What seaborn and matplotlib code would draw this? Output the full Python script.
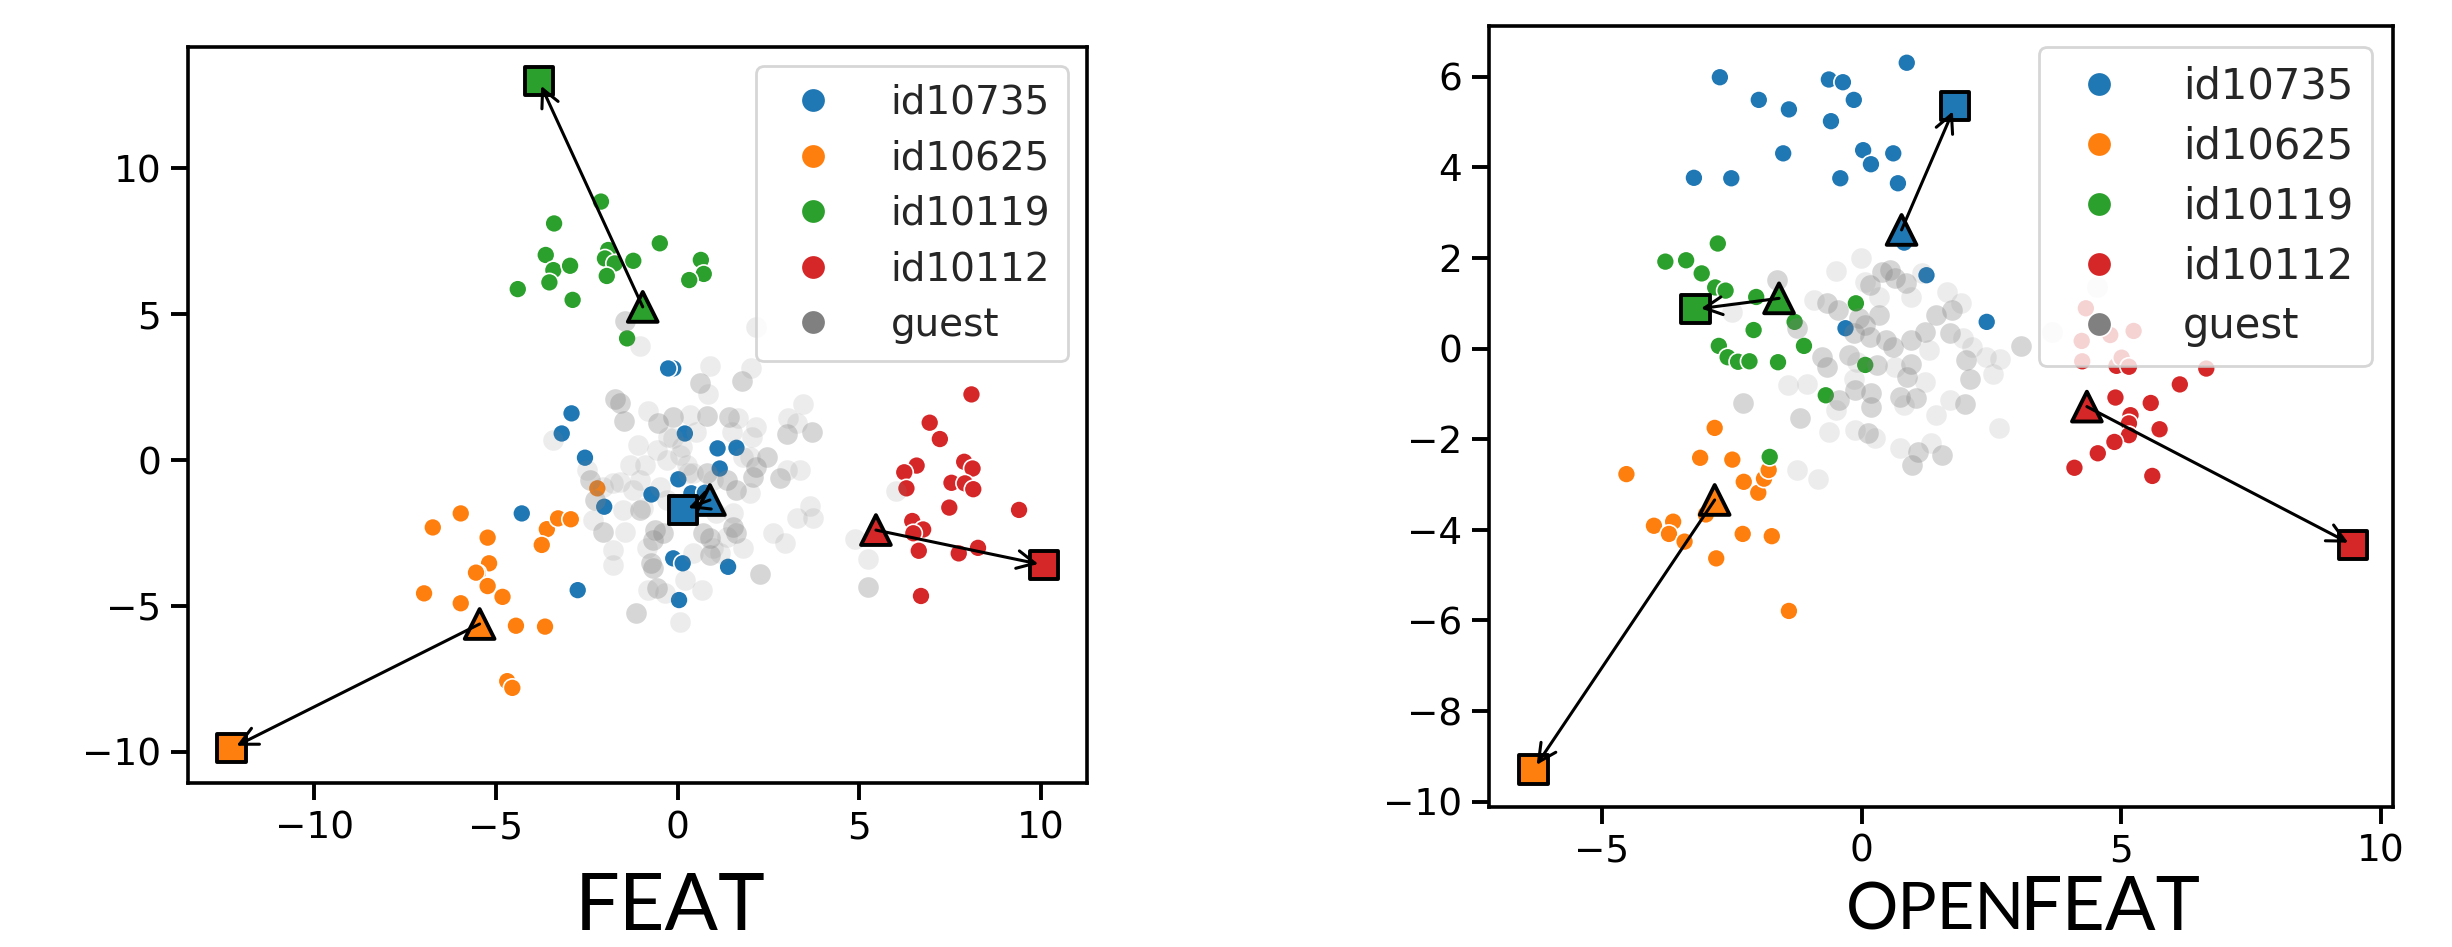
import numpy as np
import pandas as pd
import matplotlib
matplotlib.use("Agg")
import matplotlib.pyplot as plt
from matplotlib.lines import Line2D
import seaborn as sns

# ---------------- data ----------------
SPEAKERS = ["id10735", "id10625", "id10119", "id10112"]
GUEST_LABEL = "guest"
PALETTE = {"id10735": "#1f77b4", "id10625": "#ff7f0e",
           "id10119": "#2ca02c", "id10112": "#d62728", "guest": "#808080"}

# ---- FEAT panel ----
feat_id10735_x = [-0.12, -0.26, -2.92, -3.19, -2.55, 0.20, 1.10, 1.62, 1.16, 0.02,
                  -0.72, -2.02, -4.29, 0.38, 0.75, -0.12, 0.14, 1.39, -2.75, 0.04]
feat_id10735_y = [3.14, 3.14, 1.60, 0.91, 0.08, 0.91, 0.40, 0.42, -0.29, -0.66,
                  -1.18, -1.60, -1.83, -1.14, -1.12, -3.37, -3.54, -3.66, -4.46, -4.80]
feat_id10625_x = [-5.97, -6.74, -5.23, -5.19, -5.50, -5.55, -5.23, -4.82, -6.98, -5.97,
                  -4.45, -3.65, -4.69, -4.55, -3.60, -3.74, -3.29, -2.94, -2.21]
feat_id10625_y = [-1.83, -2.31, -2.66, -3.54, -3.88, -3.86, -4.32, -4.69, -4.57, -4.91,
                  -5.68, -5.71, -7.58, -7.81, -2.37, -2.91, -2.00, -2.03, -0.97]
feat_id10119_x = [-2.11, -3.40, -3.63, -3.42, -2.96, -3.53, -4.40, -2.89, -1.91, -2.00,
                  -1.73, -1.95, -1.22, -0.49, 0.64, 0.72, 0.32, -1.39]
feat_id10119_y = [8.86, 8.11, 7.03, 6.51, 6.66, 6.09, 5.86, 5.49, 7.20, 6.91,
                  6.74, 6.31, 6.83, 7.43, 6.86, 6.38, 6.17, 4.17]
feat_id10112_x = [8.09, 6.94, 7.22, 6.58, 6.24, 7.89, 8.12, 7.54, 7.91, 8.14,
                  6.30, 7.48, 6.46, 6.76, 6.49, 6.64, 7.74, 8.27, 6.70, 9.40]
feat_id10112_y = [2.25, 1.28, 0.72, -0.19, -0.42, -0.06, -0.29, -0.78, -0.80, -1.00,
                  -0.97, -1.63, -2.09, -2.38, -2.51, -3.11, -3.20, -3.01, -4.66, -1.71]
feat_guest_light_x = [-1.04, 2.17, 0.89, 2.01, 0.83, -0.81, 0.34, 1.67, 2.17, 3.04,
                      3.44, 3.28, 1.49, 2.04, 0.52, -0.26, -1.08, -0.58, 0.11, -3.42,
                      -1.31, -0.90, 0.25, -0.30, 1.99, 3.37, 3.00, 1.99, -2.50, -1.77,
                      -1.22, -1.50, -0.49, -2.32, -1.45, 1.07, 1.53, 2.63, 2.95, 3.28,
                      3.73, 3.64, -1.77, -1.77, -0.85, 0.43, 1.16, 1.81, 0.20, -0.81,
                      -0.35, 0.66, 0.06, 4.88, 5.23, 6.01, -0.30, -0.95, 0.43, -0.12,
                      -1.04, -1.59, -2.05, 0.98, 1.35, 0.06, 0.29, 0.98, 1.81]
feat_guest_light_y = [3.92, 4.57, 3.23, 3.14, 2.25, 1.68, 1.54, 1.43, 1.14, 1.43,
                      1.91, 1.26, 0.97, 0.80, 0.97, 0.80, 0.51, 0.34, 0.46, 0.69,
                      -0.17, -0.17, -0.17, 0.00, 0.11, -0.34, -0.34, -1.14, -0.34, -0.80,
                      -1.03, -1.71, -0.92, -2.06, -2.46, -1.83, -1.83, -2.51, -2.86, -2.00,
                      -2.00, -1.58, -3.09, -3.60, -3.03, -3.20, -3.20, -3.03, -4.11, -4.46,
                      -4.57, -4.46, -5.54, -2.72, -3.40, -1.06, -1.37, -1.66, -0.46, 0.74,
                      -0.69, -0.74, -0.92, -3.03, -2.63, 0.17, -0.46, -0.69, 0.11]
feat_guest_dark_x = [-1.45, 0.61, 1.76, -1.73, -1.59, -1.48, -0.53, -0.12, 0.80, 1.42,
                     3.02, 3.69, 0.80, 1.35, 2.45, 2.17, 2.08, 2.82, 1.62, -2.41,
                     -2.28, -1.04, -2.06, -0.62, -0.40, -0.67, 0.70, 0.89, 1.53, 1.62,
                     -0.72, -0.67, 0.89, 2.27, -0.58, -1.15, 5.23, 0.06]
feat_guest_dark_y = [4.78, 2.63, 2.72, 2.08, 1.94, 1.35, 1.26, 1.49, 1.52, 1.49,
                     0.88, 0.97, -0.46, -0.69, 0.11, -0.23, -0.57, -0.63, -1.03, -0.69,
                     -1.37, -1.71, -2.46, -2.40, -2.51, -2.74, -2.51, -2.68, -2.29, -2.51,
                     -3.54, -3.71, -3.26, -3.91, -4.40, -5.26, -4.36, -1.60]
# speaker centres: triangle = start, square = end (order of SPEAKERS)
feat_tri_x = [0.89, -5.45, -0.96, 5.46]
feat_tri_y = [-1.37, -5.62, 5.25, -2.40]
feat_sq_x = [0.15, -12.28, -3.82, 10.08]
feat_sq_y = [-1.71, -9.88, 13.00, -3.60]

# ---- OPENFEAT panel ----
open_id10735_x = [-2.73, -1.98, -1.40, -0.63, -0.36, -0.15, -0.59, 0.87, -1.51, 0.03,
                  0.18, 0.61, -3.23, -2.51, -0.41, 0.70, 0.82, 1.25, 2.41, -0.31]
open_id10735_y = [5.99, 5.49, 5.28, 5.94, 5.88, 5.49, 5.02, 6.31, 4.31, 4.38,
                  4.07, 4.31, 3.77, 3.76, 3.76, 3.65, 2.34, 1.62, 0.59, 0.45]
open_id10625_x = [-2.83, -3.11, -2.49, -4.53, -2.27, -1.99, -1.88, -1.79, -3.00, -4.00,
                  -3.63, -3.71, -3.41, -2.29, -1.73, -2.80, -1.40]
open_id10625_y = [-1.75, -2.41, -2.45, -2.77, -2.94, -3.18, -2.87, -2.68, -3.66, -3.91,
                  -3.82, -4.09, -4.26, -4.09, -4.14, -4.63, -5.79]
open_id10119_x = [-2.77, -3.78, -3.38, -3.08, -2.82, -2.62, -2.03, -1.29, -2.08, -1.11,
                  -2.75, -2.58, -2.38, -2.16, -1.61, -0.11, 0.07, -0.69, -1.77]
open_id10119_y = [2.32, 1.92, 1.95, 1.66, 1.35, 1.28, 1.14, 0.59, 0.41, 0.06,
                  0.06, -0.19, -0.29, -0.28, -0.30, 1.00, -0.36, -1.03, -2.39]
open_id10112_x = [4.25, 4.91, 5.01, 5.15, 6.64, 6.13, 4.89, 5.57, 5.18, 5.15,
                  5.74, 5.15, 4.87, 4.55, 4.10, 5.60, 4.32, 4.24, 4.79, 5.24]
open_id10112_y = [-0.28, -0.38, -0.20, -0.40, -0.44, -0.79, -1.08, -1.20, -1.47, -1.65,
                  -1.78, -1.91, -2.06, -2.31, -2.63, -2.81, 0.89, 0.17, 0.30, 0.39]
open_guest_light_x = [-0.01, -0.50, 1.16, 0.06, 0.33, 0.95, 1.64, 1.91, -0.91, -2.49,
                      1.29, 1.95, 2.12, 2.39, 2.67, 2.53, -0.08, 0.64, 1.23, -1.42,
                      -1.05, -0.15, 0.81, 1.71, -0.50, 1.43, 2.64, -0.63, -0.12, 0.26,
                      0.74, 1.33, -1.25, -0.84, 3.67, 4.53]
open_guest_light_y = [2.01, 1.72, 1.66, 1.47, 1.14, 1.14, 1.25, 1.00, 1.07, 0.81,
                      -0.03, 0.23, 0.04, -0.18, -0.22, -0.55, -0.29, -0.40, -0.73, -0.81,
                      -0.77, -0.66, -1.25, -1.14, -1.36, -1.47, -1.76, -1.84, -1.80, -1.98,
                      -2.20, -2.09, -2.68, -2.87, 0.37, 1.36]
open_guest_dark_x = [0.40, 0.54, 0.64, 0.85, 0.16, 1.74, 1.43, -0.67, -0.46, -1.63,
                     -1.25, -0.05, 0.06, 0.33, -0.15, 0.16, 0.47, 0.61, 0.95, 1.23,
                     1.71, 2.02, 2.08, 3.07, -0.77, -0.67, -0.25, 0.30, 0.95, 0.88,
                     -0.12, 0.19, -0.43, 0.74, 1.05, 0.19, 2.00, -2.28, -1.18, 0.13,
                     1.09, 1.55, 0.98]
open_guest_dark_y = [1.70, 1.73, 1.55, 1.44, 1.40, 0.85, 0.74, 1.00, 0.85, 1.51,
                     0.45, 0.67, 0.52, 0.74, 0.34, 0.26, 0.19, 0.04, 0.19, 0.37,
                     0.34, -0.25, -0.66, 0.06, -0.18, -0.40, -0.14, -0.36, -0.33, -0.62,
                     -0.92, -0.99, -1.14, -1.06, -1.10, -1.28, -1.23, -1.21, -1.54, -1.87,
                     -2.28, -2.35, -2.57]
open_tri_x = [0.77, -2.83, -1.59, 4.34]
open_tri_y = [2.62, -3.34, 1.11, -1.28]
open_sq_x = [1.80, -6.32, -3.20, 9.47]
open_sq_y = [5.35, -9.29, 0.87, -4.34]

TICK_LABELS = {"feat_x": [-10, -5, 0, 5, 10], "feat_y": [-10, -5, 0, 5, 10],
               "open_x": [-5, 0, 5, 10], "open_y": [-10, -8, -6, -4, -2, 0, 2, 4, 6]}
CAPTION_LEFT = "FEAT"
CAPTION_RIGHT_PREFIX = "OPEN"
CAPTION_RIGHT = "FEAT"


def speaker_frame(xs, ys):
    rows = []
    for spk, x, y in zip(SPEAKERS, xs, ys):
        rows.append(pd.DataFrame({"x": x, "y": y, "speaker": spk}))
    return pd.concat(rows, ignore_index=True)


def centre_frame(x, y):
    return pd.DataFrame({"x": x, "y": y, "speaker": SPEAKERS})


# ---------------- style ----------------
sns.set_theme(style="white")
plt.rcParams["font.family"] = ["DejaVu Sans"]
plt.rcParams.update({
    "axes.edgecolor": "black",
    "axes.linewidth": 1.3,
    "xtick.bottom": True, "ytick.left": True,
    "xtick.major.size": 6.2, "ytick.major.size": 6.2,
    "xtick.major.width": 1.4, "ytick.major.width": 1.4,
    "xtick.color": "black", "ytick.color": "black",
    "xtick.labelsize": 13.5, "ytick.labelsize": 13.5,
})

fig = plt.figure(figsize=(12.26, 4.735), dpi=200)
ax1 = fig.add_axes([0.0768, 0.1729, 0.3665, 0.7775])
ax2 = fig.add_axes([0.6072, 0.1482, 0.3686, 0.8243])

panels = [
    (ax1,
     speaker_frame([feat_id10735_x, feat_id10625_x, feat_id10119_x, feat_id10112_x],
                   [feat_id10735_y, feat_id10625_y, feat_id10119_y, feat_id10112_y]),
     (feat_guest_light_x, feat_guest_light_y), (feat_guest_dark_x, feat_guest_dark_y),
     centre_frame(feat_tri_x, feat_tri_y), centre_frame(feat_sq_x, feat_sq_y),
     (-13.47, 11.27), (-11.08, 14.16), TICK_LABELS["feat_x"], TICK_LABELS["feat_y"],
     14.0, 0.45),
    (ax2,
     speaker_frame([open_id10735_x, open_id10625_x, open_id10119_x, open_id10112_x],
                   [open_id10735_y, open_id10625_y, open_id10119_y, open_id10112_y]),
     (open_guest_light_x, open_guest_light_y), (open_guest_dark_x, open_guest_dark_y),
     centre_frame(open_tri_x, open_tri_y), centre_frame(open_sq_x, open_sq_y),
     (-7.18, 10.23), (-10.11, 7.12), TICK_LABELS["open_x"], TICK_LABELS["open_y"],
     15.0, 0.43),
]

for ax, df, g_light, g_dark, tri, sq, xl, yl, xt, yt, lfs, lsp in panels:
    sns.scatterplot(data=df, x="x", y="y", hue="speaker", hue_order=SPEAKERS,
                    palette=PALETTE, s=42, edgecolor="white", linewidth=0.6,
                    legend=False, ax=ax, zorder=2)
    sns.scatterplot(x=g_light[0], y=g_light[1], color=PALETTE["guest"], s=55,
                    alpha=0.15, linewidth=0, legend=False, ax=ax, zorder=3)
    sns.scatterplot(x=g_dark[0], y=g_dark[1], color=PALETTE["guest"], s=55,
                    alpha=0.32, linewidth=0, legend=False, ax=ax, zorder=3)
    sns.scatterplot(data=tri, x="x", y="y", hue="speaker", hue_order=SPEAKERS,
                    palette=PALETTE, marker="^", s=115, edgecolor="black",
                    linewidth=1.4, legend=False, ax=ax, zorder=4)
    sns.scatterplot(data=sq, x="x", y="y", hue="speaker", hue_order=SPEAKERS,
                    palette=PALETTE, marker="s", s=105, edgecolor="black",
                    linewidth=1.4, legend=False, ax=ax, zorder=4)
    for i in range(len(SPEAKERS)):
        ax.annotate("", xy=(sq["x"][i], sq["y"][i]), xytext=(tri["x"][i], tri["y"][i]),
                    arrowprops=dict(arrowstyle="->", color="black", lw=1.1,
                                    mutation_scale=16, shrinkA=0, shrinkB=2),
                    zorder=5)
    ax.set_xlim(*xl)
    ax.set_ylim(*yl)
    ax.set_xticks(xt)
    ax.set_yticks(yt)
    ax.set_xlabel("")
    ax.set_ylabel("")
    for sp in ax.spines.values():
        sp.set_visible(True)
        sp.set_color("black")
    handles = [Line2D([], [], marker="o", linestyle="", markersize=8.8,
                      markerfacecolor=PALETTE[k], markeredgecolor="white",
                      markeredgewidth=0.6)
               for k in SPEAKERS + [GUEST_LABEL]]
    ax.legend(handles, SPEAKERS + [GUEST_LABEL], loc="upper right", fontsize=lfs,
              frameon=True, framealpha=0.8, edgecolor="0.8", fancybox=True,
              handletextpad=1.0, labelspacing=lsp, borderpad=0.45)

# panel captions (Calibri-like font), "OPEN" set as small capitals
fig.text(0.2733, 0.018, CAPTION_LEFT, family="Lato", fontsize=28.5, ha="center",
         va="baseline", color="black")
t_open = fig.text(0.7529, 0.018, CAPTION_RIGHT_PREFIX, family="Lato", fontsize=23.5,
                  ha="left", va="baseline", color="black")
fig.canvas.draw()
bb = t_open.get_window_extent(renderer=fig.canvas.get_renderer())
x_next = fig.transFigure.inverted().transform((bb.x1, bb.y0))[0]
fig.text(x_next - 0.0025, 0.018, CAPTION_RIGHT, family="Lato", fontsize=27,
         ha="left", va="baseline", color="black")

fig.savefig("out.png", dpi=200)
